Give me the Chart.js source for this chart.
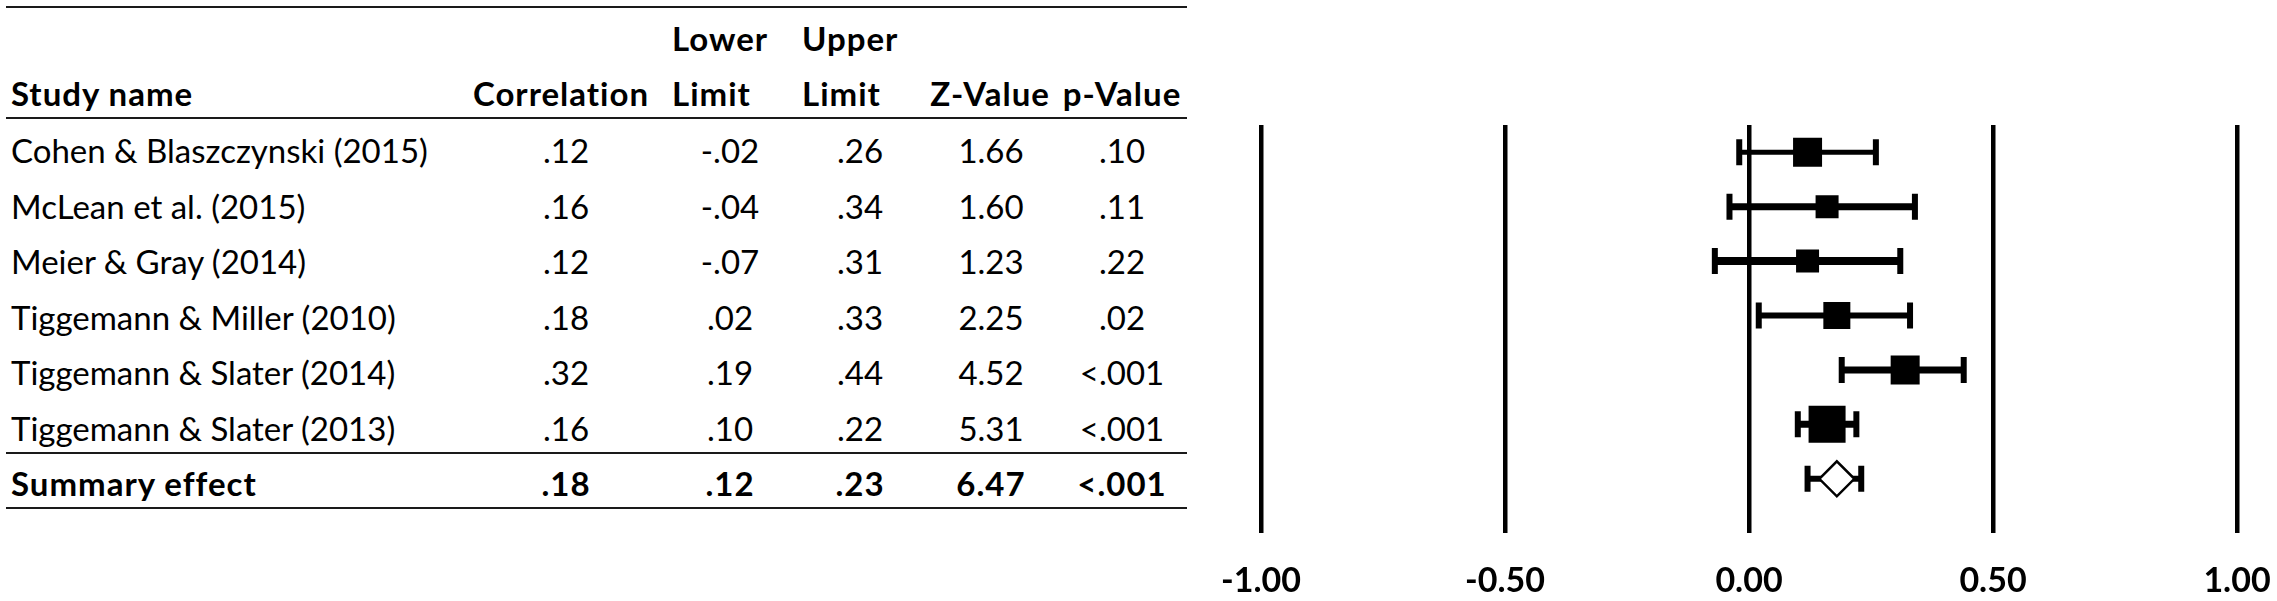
<!DOCTYPE html>
<html>
<head>
<meta charset="utf-8">
<script src="https://cdn.jsdelivr.net/npm/chart.js@4.4.1/dist/chart.umd.min.js"></script>
<style>
  html, body { margin: 0; padding: 0; background: #fff; }
  body { width: 2277px; height: 601px; position: relative; overflow: hidden;
         font-family: 'Lato', 'Open Sans', sans-serif; color: #000; }
  .cell { position: absolute; font-size: 33px; line-height: 40px; height: 40px; white-space: nowrap; }
  .bold { font-weight: 700; letter-spacing: 1px; }
  .rule { position: absolute; left: 6px; width: 1181px; height: 2px; background: #1a1a1a; }
  #plot { position: absolute; left: 1180px; top: 0; width: 1097px; height: 601px; }
</style>
</head>
<body>
<div id="table"></div>
<div id="plot"><canvas id="forest"></canvas></div>

<script>
/* ---------- Data ---------- */
const studies     = ['Cohen & Blaszczynski (2015)', 'McLean et al. (2015)', 'Meier & Gray (2014)',
                     'Tiggemann & Miller (2010)', 'Tiggemann & Slater (2014)', 'Tiggemann & Slater (2013)'];
const correlation = [0.12, 0.16, 0.12, 0.18, 0.32, 0.16];
const lowerLimit  = [-0.02, -0.04, -0.07, 0.02, 0.19, 0.10];
const upperLimit  = [0.26, 0.34, 0.31, 0.33, 0.44, 0.22];
const zValue      = [1.66, 1.60, 1.23, 2.25, 4.52, 5.31];
const pValue      = ['.10', '.11', '.22', '.02', '<.001', '<.001'];

const summaryLabel = 'Summary effect';
const summary      = { r: 0.18, lower: 0.12, upper: 0.23, z: 6.47, p: '<.001' };

const axisTicks = [-1, -0.5, 0, 0.5, 1];

// marker look (box size in px roughly follows study weight)
const boxSize   = [29, 23, 23, 27, 29, 37];
const ciWidth   = [5, 7, 8, 6, 7, 7, 6];

/* ---------- Table (left side) ---------- */
const table = document.getElementById('table');
const fmt = v => v.toFixed(2).replace('0.', '.');

function cell(text, x, yMid, align, bold) {
  const d = document.createElement('div');
  d.className = 'cell' + (bold ? ' bold' : '');
  d.textContent = text;
  d.style.top = (yMid - 20) + 'px';
  if (align === 'center') {
    d.style.left = (x - 150) + 'px';
    d.style.width = '300px';
    d.style.textAlign = 'center';
  } else {
    d.style.left = x + 'px';
  }
  table.appendChild(d);
}

function rule(y) {
  const r = document.createElement('div');
  r.className = 'rule';
  r.style.top = (y - 1) + 'px';
  table.appendChild(r);
}

// column anchors
const col = { name: 11, corr: 566, lower: 730, upper: 860, z: 991, p: 1122 };

// header
cell('Lower', 672, 38, 'left', true);
cell('Upper', 802, 38, 'left', true);
cell('Study name', col.name, 93, 'left', true);
cell('Correlation', 561, 93, 'center', true);
cell('Limit', 672, 93, 'left', true);
cell('Limit', 802, 93, 'left', true);
cell('Z-Value', 990, 93, 'center', true);
cell('p-Value', 1122, 93, 'center', true);

const rowMid = k => 150 + 55.5 * k;

studies.forEach((s, i) => {
  const y = rowMid(i);
  cell(s, col.name, y, 'left', false);
  cell(fmt(correlation[i]), col.corr, y, 'center', false);
  cell(fmt(lowerLimit[i]), col.lower, y, 'center', false);
  cell(fmt(upperLimit[i]), col.upper, y, 'center', false);
  cell(zValue[i].toFixed(2), col.z, y, 'center', false);
  cell(pValue[i], col.p, y, 'center', false);
});

const ys = rowMid(studies.length);
cell(summaryLabel, col.name, ys, 'left', true);
cell(fmt(summary.r), col.corr, ys, 'center', true);
cell(fmt(summary.lower), col.lower, ys, 'center', true);
cell(fmt(summary.upper), col.upper, ys, 'center', true);
cell(summary.z.toFixed(2), col.z, ys, 'center', true);
cell(summary.p, col.p, ys, 'center', true);

rule(7);
rule(118);
rule(453);
rule(508);

/* ---------- Forest plot (Chart.js) ---------- */
const allLower = [...lowerLimit, summary.lower];
const allUpper = [...upperLimit, summary.upper];
const nRows = allLower.length;

const ciLines = allLower.map((lo, i) => ({
  type: 'scatter',
  showLine: true,
  data: [{ x: lo, y: i }, { x: allUpper[i], y: i }],
  borderColor: '#000',
  borderWidth: ciWidth[i],
  pointRadius: 0,
  order: 4
}));

const caps = {
  type: 'scatter',
  data: allLower.flatMap((lo, i) => [{ x: lo, y: i }, { x: allUpper[i], y: i }]),
  pointStyle: 'line',
  pointRotation: 90,
  pointRadius: 13,
  pointBorderWidth: 6,
  pointBorderColor: '#000',
  order: 3
};

const boxes = {
  type: 'scatter',
  data: correlation.map((r, i) => ({ x: r, y: i })),
  pointStyle: 'rect',
  pointRadius: boxSize.map(s => s * Math.SQRT1_2),
  pointBackgroundColor: '#000',
  pointBorderWidth: 0,
  order: 2
};

const diamond = {
  type: 'scatter',
  data: [{ x: summary.r, y: studies.length }],
  pointStyle: 'rectRot',
  pointRadius: 17.5,
  pointBackgroundColor: '#fff',
  pointBorderColor: '#000',
  pointBorderWidth: 2.5,
  order: 1
};

new Chart(document.getElementById('forest'), {
  type: 'scatter',
  data: { datasets: [diamond, boxes, caps, ...ciLines] },
  options: {
    responsive: true,
    maintainAspectRatio: false,
    animation: false,
    events: [],
    layout: { padding: { left: 81, right: 40, top: 125, bottom: 0 } },
    plugins: { legend: { display: false }, tooltip: { enabled: false } },
    scales: {
      x: {
        type: 'linear',
        min: axisTicks[0],
        max: axisTicks[axisTicks.length - 1],
        afterBuildTicks: axis => { axis.ticks = axisTicks.map(v => ({ value: v })); },
        // invisible tick marks push the labels down without widening the side padding
        grid: { color: '#000', lineWidth: 4.5, drawTicks: true, tickLength: 27, tickColor: 'rgba(0,0,0,0)' },
        border: { display: false },
        ticks: {
          padding: 0,
          color: '#000',
          font: { family: 'Lato', size: 34, weight: 'bold', lineHeight: 1.2 },
          callback: v => v.toFixed(2)
        }
      },
      y: {
        type: 'linear',
        display: false,
        reverse: true,
        min: -0.5,
        max: nRows
      }
    }
  }
});
</script>
</body>
</html>
